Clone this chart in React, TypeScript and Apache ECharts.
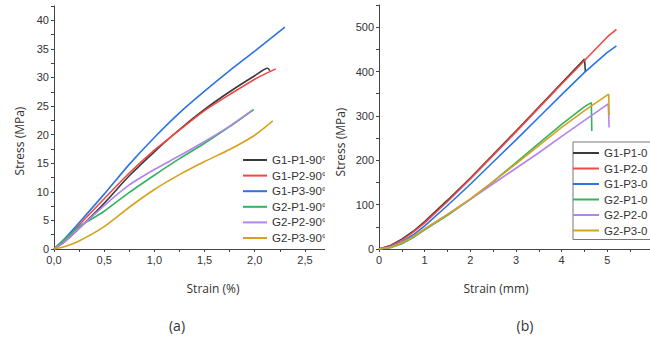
import React, { useEffect, useRef } from 'react';
import * as echarts from 'echarts';

// ---------- Panel (a): stress (MPa) vs strain (%) ----------
const namesA = ['G1-P1-90°', 'G1-P2-90°', 'G1-P3-90°', 'G2-P1-90°', 'G2-P2-90°', 'G2-P3-90°'];
const a_G1P1 = [[0, 0], [0.1, 1.2], [0.25, 3.6], [0.5, 8.0], [0.75, 12.8], [1.0, 17.0], [1.25, 20.9], [1.5, 24.4], [1.75, 27.5], [2.0, 30.3], [2.13, 31.6], [2.15, 31.2]];
const a_G1P2 = [[0, 0], [0.1, 1.6], [0.25, 4.2], [0.5, 8.8], [0.75, 13.3], [1.0, 17.3], [1.25, 20.8], [1.5, 24.2], [1.75, 27.0], [2.0, 29.7], [2.21, 31.5]];
const a_G1P3 = [[0, 0], [0.1, 1.7], [0.25, 4.6], [0.5, 9.6], [0.75, 14.8], [1.0, 19.5], [1.25, 23.8], [1.5, 27.6], [1.75, 31.2], [2.0, 34.6], [2.3, 38.8]];
const a_G2P1 = [[0, 0], [0.1, 1.6], [0.25, 3.9], [0.4, 5.5], [0.5, 6.6], [0.75, 9.9], [1.0, 12.9], [1.25, 15.8], [1.5, 18.5], [1.75, 21.4], [1.99, 24.4]];
const a_G2P2 = [[0, 0], [0.1, 1.2], [0.25, 3.6], [0.5, 7.6], [0.75, 11.2], [1.0, 13.9], [1.25, 16.3], [1.5, 18.8], [1.75, 21.5], [1.97, 24.2]];
const a_G2P3 = [[0, 0], [0.1, 0.4], [0.25, 1.4], [0.5, 3.9], [0.75, 7.3], [1.0, 10.4], [1.25, 13.0], [1.5, 15.3], [1.75, 17.4], [2.0, 19.9], [2.18, 22.4]];
const dataA = [a_G1P1, a_G1P2, a_G1P3, a_G2P1, a_G2P2, a_G2P3];

// ---------- Panel (b): stress (MPa) vs strain (mm) ----------
const namesB = ['G1-P1-0', 'G1-P2-0', 'G1-P3-0', 'G2-P1-0', 'G2-P2-0', 'G2-P3-0'];
const b_G1P1 = [[0, 0], [0.25, 8], [0.5, 22], [0.75, 40], [1, 62], [1.5, 110], [2, 160], [2.5, 213], [3, 266], [3.5, 320], [4, 374], [4.5, 428], [4.51, 429], [4.52, 399]];
const b_G1P2 = [[0, 0], [0.25, 7], [0.5, 20], [0.75, 38], [1, 59], [1.5, 107], [2, 158], [2.5, 211], [3, 264], [3.5, 318], [4, 372], [4.5, 425], [5, 478], [5.2, 495]];
const b_G1P3 = [[0, 0], [0.25, 5], [0.5, 16], [0.75, 32], [1, 52], [1.5, 98], [2, 146], [2.5, 196], [3, 246], [3.5, 297], [4, 348], [4.5, 398], [5, 443], [5.2, 458]];
const b_G2P1 = [[0, 0], [0.25, 3], [0.5, 12], [0.75, 26], [1, 43], [1.5, 76], [2, 112], [2.5, 152], [3, 195], [3.5, 238], [4, 281], [4.5, 321], [4.65, 330], [4.66, 266]];
const b_G2P2 = [[0, 0], [0.25, 4], [0.5, 14], [0.75, 28], [1, 45], [1.5, 78], [2, 112], [2.5, 147], [3, 182], [3.5, 217], [4, 254], [4.5, 290], [5.02, 327], [5.04, 274]];
const b_G2P3 = [[0, 0], [0.25, 4], [0.5, 14], [0.75, 28], [1, 45], [1.5, 78], [2, 113], [2.5, 152], [3, 192], [3.5, 233], [4, 274], [4.5, 312], [5.03, 349], [5.04, 302]];
const dataB = [b_G1P1, b_G1P2, b_G1P3, b_G2P1, b_G2P2, b_G2P3];

const colors = ['#3a3a3a', '#f24646', '#2b74e2', '#34b25f', '#b383ec', '#d6a21c'];

const labelFont = '"Liberation Sans", Arial, sans-serif';
const titleFont = '"Open Sans", "Noto Sans", sans-serif';

function axisBase() {
  return {
    type: 'value' as const,
    axisLine: { show: true, onZero: false, lineStyle: { color: '#444', width: 1 } },
    axisTick: { show: true, inside: false, length: 3, lineStyle: { color: '#444' } },
    splitLine: { show: false },
  };
}

function isMult(v: number, step: number) {
  const r = v / step;
  return Math.abs(r - Math.round(r)) < 1e-6;
}

function makeSeries(names: string[], data: number[][][], smooth: number | boolean) {
  return names.map((n, i) => ({
    name: n,
    type: 'line',
    data: data[i],
    showSymbol: false,
    symbol: 'none',
    smooth,
    color: colors[i],
    lineStyle: { width: 1.6, color: colors[i] },
    z: 2 + i,
  }));
}

function legendBase(names: string[]) {
  return {
    data: names,
    orient: 'vertical',
    icon: 'rect',
    itemHeight: 2,
    textStyle: { fontSize: 11.5, lineHeight: 14, color: '#333', fontFamily: labelFont },
  };
}

const optionA = {
  animation: false,
  color: colors,
  grid: { left: 54, top: 6, right: 10, bottom: 88, containLabel: false },
  xAxis: {
    ...axisBase(),
    min: 0,
    max: 2.75,
    interval: 0.25,
    axisLabel: {
      color: '#333', fontSize: 11, fontFamily: labelFont, margin: 5,
      formatter: (v: number) => (isMult(v, 0.5) && v <= 2.5 ? v.toFixed(1).replace('.', ',') : ''),
    },
  },
  yAxis: {
    ...axisBase(),
    min: 0,
    max: 42.5,
    interval: 2.5,
    axisLabel: {
      color: '#333', fontSize: 11, fontFamily: labelFont, margin: 5,
      formatter: (v: number) => (isMult(v, 5) && v <= 40 ? String(v) : ''),
    },
  },
  legend: { ...legendBase(namesA), left: 243, top: 153, itemWidth: 24, itemGap: 1.6, padding: 0 },
  graphic: [
    { type: 'text', x: 213, y: 288, style: { text: 'Strain (%)', font: `12px ${titleFont}`, fill: '#333', align: 'center', verticalAlign: 'middle' } },
    { type: 'text', x: 19, y: 141, rotation: Math.PI / 2, style: { text: 'Stress (MPa)', font: `12px ${titleFont}`, fill: '#333', align: 'center', verticalAlign: 'middle' } },
    { type: 'text', x: 177, y: 325, style: { text: '(a)', font: `14px ${titleFont}`, fill: '#333', align: 'center', verticalAlign: 'middle' } },
  ],
  series: makeSeries(namesA, dataA, 0.25),
};

const optionB = {
  animation: false,
  color: colors,
  grid: { left: 54, top: 5, right: 12, bottom: 88, containLabel: false },
  xAxis: {
    ...axisBase(),
    min: 0,
    max: 6,
    interval: 0.5,
    axisLabel: {
      color: '#333', fontSize: 11, fontFamily: labelFont, margin: 5,
      formatter: (v: number) => (isMult(v, 1) && v <= 5 ? String(v) : ''),
    },
  },
  yAxis: {
    ...axisBase(),
    min: 0,
    max: 550,
    interval: 50,
    axisLabel: {
      color: '#333', fontSize: 11, fontFamily: labelFont, margin: 5,
      formatter: (v: number) => (isMult(v, 100) && v <= 500 ? String(v) : ''),
    },
  },
  legend: {
    ...legendBase(namesB), left: 248, top: 142, itemWidth: 26, itemGap: 1.5,
    padding: [4, 10, 2, 0], borderColor: '#777', borderWidth: 1,
  },
  graphic: [
    { type: 'text', x: 171, y: 288, style: { text: 'Strain (mm)', font: `12px ${titleFont}`, fill: '#333', align: 'center', verticalAlign: 'middle' } },
    { type: 'text', x: 15, y: 142, rotation: Math.PI / 2, style: { text: 'Stress (MPa)', font: `12px ${titleFont}`, fill: '#333', align: 'center', verticalAlign: 'middle' } },
    { type: 'text', x: 200, y: 325, style: { text: '(b)', font: `14px ${titleFont}`, fill: '#333', align: 'center', verticalAlign: 'middle' } },
  ],
  series: makeSeries(namesB, dataB, false),
};

function Chart({ option }: { option: any }) {
  const ref = useRef<HTMLDivElement>(null);
  useEffect(() => {
    if (!ref.current) return;
    const chart = echarts.init(ref.current, undefined, { renderer: 'svg' });
    chart.setOption(option);
    return () => chart.dispose();
  }, [option]);
  return <div ref={ref} style={{ width: 340, height: 337 }} />;
}

export default function App() {
  return (
    <div style={{ position: 'fixed', left: 0, top: 0, width: 650, height: 337, background: '#fff', overflow: 'hidden' }}>
      <div style={{ position: 'absolute', left: 0, top: 0, width: 325, height: 337, overflow: 'hidden' }}>
        <Chart option={optionA} />
      </div>
      <div style={{ position: 'absolute', left: 325, top: 0, width: 325, height: 337, overflow: 'hidden' }}>
        <Chart option={optionB} />
      </div>
    </div>
  );
}
